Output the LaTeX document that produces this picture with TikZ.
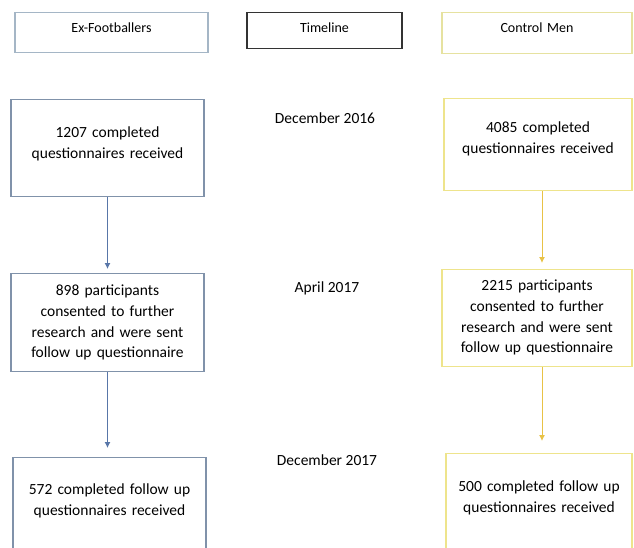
\documentclass[tikz,border=0pt]{standalone}
\usepackage{fontspec}
\setmainfont{Carlito}
\usetikzlibrary{calc,arrows.meta}

\definecolor{efLine}{RGB}{128,146,170}
\definecolor{efHeadLine}{RGB}{165,182,198}
\definecolor{efArrow}{RGB}{88,118,168}
\definecolor{cmLine}{RGB}{238,228,140}
\definecolor{cmHeadLine}{RGB}{230,226,160}
\definecolor{cmArrow}{RGB}{232,194,70}

\begin{document}
\begin{tikzpicture}[>={Latex[length=6pt,width=6pt]}, x=1pt, y=-1pt]

  \tikzstyle{box} = [draw, line width=1.1pt, rectangle, anchor=north, inner sep=0pt, align=center, font={\fontsize{15.5}{20.8}\selectfont}]
  \tikzstyle{headBox} = [box, font={\fontsize{14}{17}\selectfont}, text height=20pt]
  \tikzstyle{efBox} = [box, draw=efLine, text width=193pt]
  \tikzstyle{cmBox} = [box, draw=cmLine]
  \tikzstyle{dateLabel} = [font={\fontsize{15.5}{18}\selectfont}];
  \tikzstyle{edgePortion} = [line width=1pt];
  \tikzstyle{efEdge} = [edgePortion, efArrow, ->];
  \tikzstyle{cmEdge} = [edgePortion, cmArrow, ->];

  \useasboundingbox (0,0) rectangle (634,547);
  \clip (0,0) rectangle (634,547);

  % Column headers
  \node[headBox, name=efHead, draw=efHeadLine, text width=193pt, text depth=20pt] at (111.5,12) {Ex-Footballers};
  \node[headBox, name=tlHead, draw=black!80, text width=155pt, text depth=16pt] at (324.5,12) {Timeline};
  \node[headBox, name=cmHead, draw=cmHeadLine, text width=190pt, text depth=21pt] at (537,12) {Control Men};

  % Ex-footballers
  \node[efBox, name=ef1, text height=38pt, text depth=59pt] at (107.5,99) {1207 completed\\questionnaires received};
  \node[efBox, name=ef2, text height=22pt, text depth=76pt] at (107.5,273) {898 participants\\consented to further\\research and were sent\\follow up questionnaire};
  \node[efBox, name=ef3, text height=37pt, text depth=120pt] at (109.5,457) {572 completed follow up\\questionnaires received};

  % Timeline
  \node[dateLabel, name=dec16] at (325,118) {December 2016};
  \node[dateLabel, name=apr17] at (327,288) {April 2017};
  \node[dateLabel, name=dec17] at (327,460) {December 2017};

  % Control men
  \node[cmBox, name=cm1, text width=188pt, text height=34pt, text depth=58pt] at (538,98) {4085 completed\\questionnaires received};
  \node[cmBox, name=cm2, text width=190pt, text height=21pt, text depth=76pt] at (537,269) {2215 participants\\consented to further\\research and were sent\\follow up questionnaire};
  \node[cmBox, name=cm3, text width=186pt, text height=38pt, text depth=120pt] at (539,453) {500 completed follow up\\questionnaires received};

  % Ex-footballers: received -> consented -> follow up
  \draw (ef1.south) edge[efEdge] ($(ef2.north)+(0,-4)$);
  \draw (ef2.south) edge[efEdge] ($(ef2.south |- ef3.north)+(0,-9)$);

  % Control men: received -> consented -> follow up
  \draw ($(cm1.south)+(4,0)$) edge[cmEdge] ($(cm2.north)+(5,-6)$);
  \draw ($(cm2.south)+(5,0)$) edge[cmEdge] ($(cm2.south |- cm3.north)+(5,-12)$);

\end{tikzpicture}
\end{document}
